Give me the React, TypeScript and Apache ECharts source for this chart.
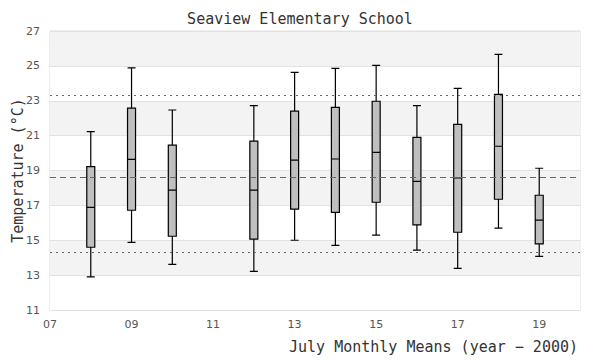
import React, { useEffect, useRef } from "react";
import * as echarts from "echarts";

const years = [8, 9, 10, 12, 13, 14, 15, 16, 17, 18, 19];
const mins = [12.9, 14.88, 13.62, 13.22, 15.0, 14.71, 15.29, 14.43, 13.39, 15.69, 14.08];
const q1s = [14.6, 16.72, 15.23, 15.07, 16.78, 16.6, 17.18, 15.88, 15.46, 17.35, 14.79];
const medians = [16.89, 19.64, 17.87, 17.87, 19.6, 19.66, 20.04, 18.38, 18.57, 20.39, 16.15];
const q3s = [19.22, 22.58, 20.45, 20.68, 22.4, 22.62, 22.97, 20.9, 21.65, 23.37, 17.58];
const maxs = [21.23, 24.88, 22.47, 22.72, 24.63, 24.86, 25.03, 22.72, 23.71, 25.66, 19.13];
const meanLine = 18.61;
const upperLine = 23.31;
const lowerLine = 14.31;

const mono = "DejaVu Sans Mono";
const sans = "DejaVu Sans";

export default function App() {
  const ref = useRef<HTMLDivElement>(null);
  useEffect(() => {
    if (!ref.current) return;
    const chart = echarts.init(ref.current, undefined, { renderer: "svg" });
    const boxData = years.map((y, i) => [y, mins[i], q1s[i], medians[i], q3s[i], maxs[i]]);
    chart.setOption({
      animation: false,
      backgroundColor: "#ffffff",
      title: {
        text: "Seaview Elementary School",
        left: "center",
        top: 6,
        textStyle: { fontFamily: mono, fontSize: 15, fontWeight: "normal", color: "#333" },
      },
      grid: {
        left: 50,
        right: 20,
        top: 31,
        bottom: 50,
        containLabel: false,
        outerBoundsMode: "none",
        show: true,
        borderColor: "#dddddd",
        borderWidth: 1,
        backgroundColor: "transparent",
      },
      xAxis: {
        type: "value",
        min: 7,
        max: 20,
        interval: 2,
        name: "July Monthly Means (year \u2212 2000)",
        nameLocation: "end",
        nameGap: -2,
        nameMoveOverlap: false,
        nameTextStyle: {
          fontFamily: mono,
          fontSize: 15,
          color: "#333",
          align: "right",
          verticalAlign: "top",
          padding: [29, 0, 0, 0],
        },
        axisLine: { show: false },
        axisTick: { show: false },
        splitLine: { show: false },
        axisLabel: {
          showMaxLabel: false,
          margin: 9,
          fontFamily: sans,
          fontSize: 11,
          color: "#555",
          formatter: (v: number) => String(v).padStart(2, "0"),
        },
      },
      yAxis: {
        type: "value",
        min: 11,
        max: 27,
        interval: 2,
        name: "Temperature (\u00b0C)",
        nameLocation: "middle",
        nameGap: 25,
        nameMoveOverlap: false,
        nameTextStyle: { fontFamily: mono, fontSize: 15, color: "#333" },
        axisLine: { show: false },
        axisTick: { show: false },
        axisLabel: { margin: 10, fontFamily: sans, fontSize: 11, color: "#555" },
        splitLine: { show: true, lineStyle: { color: "#e2e2e2", width: 1 } },
        splitArea: { show: true, areaStyle: { color: ["#ffffff", "#f3f3f3"] } },
      },
      series: [
        {
          type: "boxplot",
          data: boxData,
          boxWidth: [8, 8],
          itemStyle: { color: "#bfbfbf", borderColor: "#000000", borderWidth: 1.2 },
          emphasis: { disabled: true },
          markLine: {
            silent: true,
            symbol: "none",
            label: { show: false },
            data: [
              { yAxis: meanLine, lineStyle: { type: [6, 4], color: "#666", width: 1 } },
              { yAxis: upperLine, lineStyle: { type: [2, 4], color: "#666", width: 1 } },
              { yAxis: lowerLine, lineStyle: { type: [2, 4], color: "#666", width: 1 } },
            ],
          },
        },
      ],
    });
    return () => chart.dispose();
  }, []);
  return <div ref={ref} style={{ width: 600, height: 360, position: "absolute", left: 0, top: 0 }} />;
}
